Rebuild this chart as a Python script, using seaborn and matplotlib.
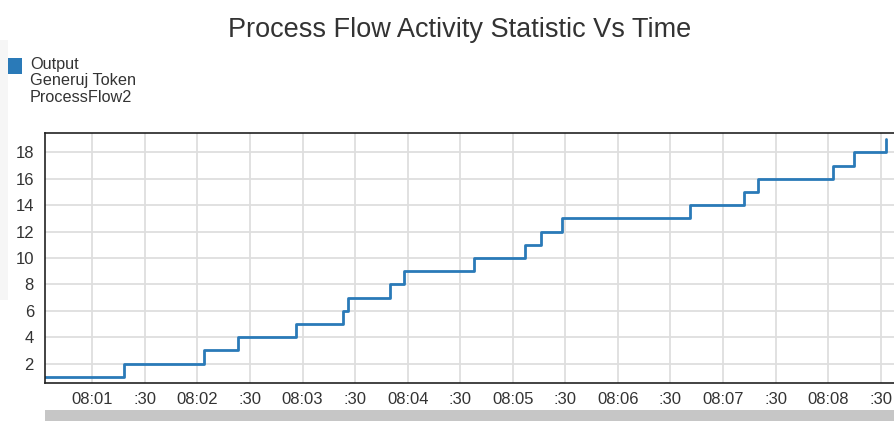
import matplotlib
matplotlib.use("Agg")
import matplotlib.pyplot as plt
import matplotlib.dates as mdates
from matplotlib.patches import Rectangle
from matplotlib.ticker import FuncFormatter
import seaborn as sns
import pandas as pd

# ---- data ----
times = ["08:00:30", "08:01:18", "08:02:04", "08:02:23", "08:02:56", "08:03:23",
         "08:03:26", "08:03:50", "08:03:58", "08:04:38", "08:05:07", "08:05:16",
         "08:05:28", "08:06:41", "08:07:12", "08:07:20", "08:08:03", "08:08:15",
         "08:08:33"]
values = [1, 2, 3, 4, 5, 6, 7, 8, 9, 10, 11, 12, 13, 14, 15, 16, 17, 18, 19]
legend_lines = ["Output", "Generuj Token", "ProcessFlow2"]
title = "Process Flow Activity Statistic Vs Time"
yticks = [2, 4, 6, 8, 10, 12, 14, 16, 18]

df = pd.DataFrame({"time": pd.to_datetime(["2024-01-01 " + t for t in times]),
                   "value": values})

sns.set_theme(style="white")
plt.rcParams["font.family"] = ["Liberation Sans", "DejaVu Sans"]

W, H = 895, 421
fig = plt.figure(figsize=(W / 100, H / 100), dpi=100)
ax = fig.add_axes([45 / W, 1 - 383.3 / H, (900 - 45) / W, (383.3 - 132.7) / H])

line_color = "#2a7ab8"
sns.lineplot(data=df, x="time", y="value", drawstyle="steps-post",
             color=line_color, linewidth=2.0, ax=ax)

ax.set_xlim(pd.Timestamp("2024-01-01 08:00:33"), pd.Timestamp("2024-01-01 08:08:41"))
ax.set_ylim(0.5, 19.5)
ax.set_yticks(yticks)

ax.xaxis.set_major_locator(mdates.SecondLocator(bysecond=[0, 30]))


def fmt(x, pos):
    d = mdates.num2date(x)
    if d.second == 30:
        return ":30"
    return d.strftime("%H:%M")


ax.xaxis.set_major_formatter(FuncFormatter(fmt))
ax.grid(True, color="#dedede", linewidth=1.3)
ax.set_axisbelow(True)
ax.set_xlabel("")
ax.set_ylabel("")
ax.tick_params(axis="both", length=0, labelsize=12, colors="#333333")
ax.tick_params(axis="x", pad=6)
ax.tick_params(axis="y", pad=8)
for s in ["top", "left", "bottom"]:
    ax.spines[s].set_visible(True)
    ax.spines[s].set_color("#222222")
    ax.spines[s].set_linewidth(1.2)
ax.spines["right"].set_visible(False)

fig.text(460 / W, 1 - 30 / H, title, ha="center", va="center",
         fontsize=19.5, color="#333333")

# legend-like block
fig.patches.append(Rectangle((0, 1 - 300 / H), 8 / W, 260 / H, transform=fig.transFigure,
                             facecolor="#f6f6f6", edgecolor="none", zorder=0))
fig.patches.append(Rectangle((8 / W, 1 - 74 / H), 14 / W, 16 / H, transform=fig.transFigure,
                             facecolor=line_color, edgecolor="none"))
for i, t in enumerate(legend_lines):
    fig.text(30 / W, 1 - (65 + 16 * i) / H, t, ha="left", va="center",
             fontsize=11.7, color="#333333")

# bottom scrollbar
fig.patches.append(Rectangle((45 / W, 0), (W - 45) / W, 11 / H, transform=fig.transFigure,
                             facecolor="#c6c6c6", edgecolor="none"))

fig.savefig("out.png", dpi=100)
